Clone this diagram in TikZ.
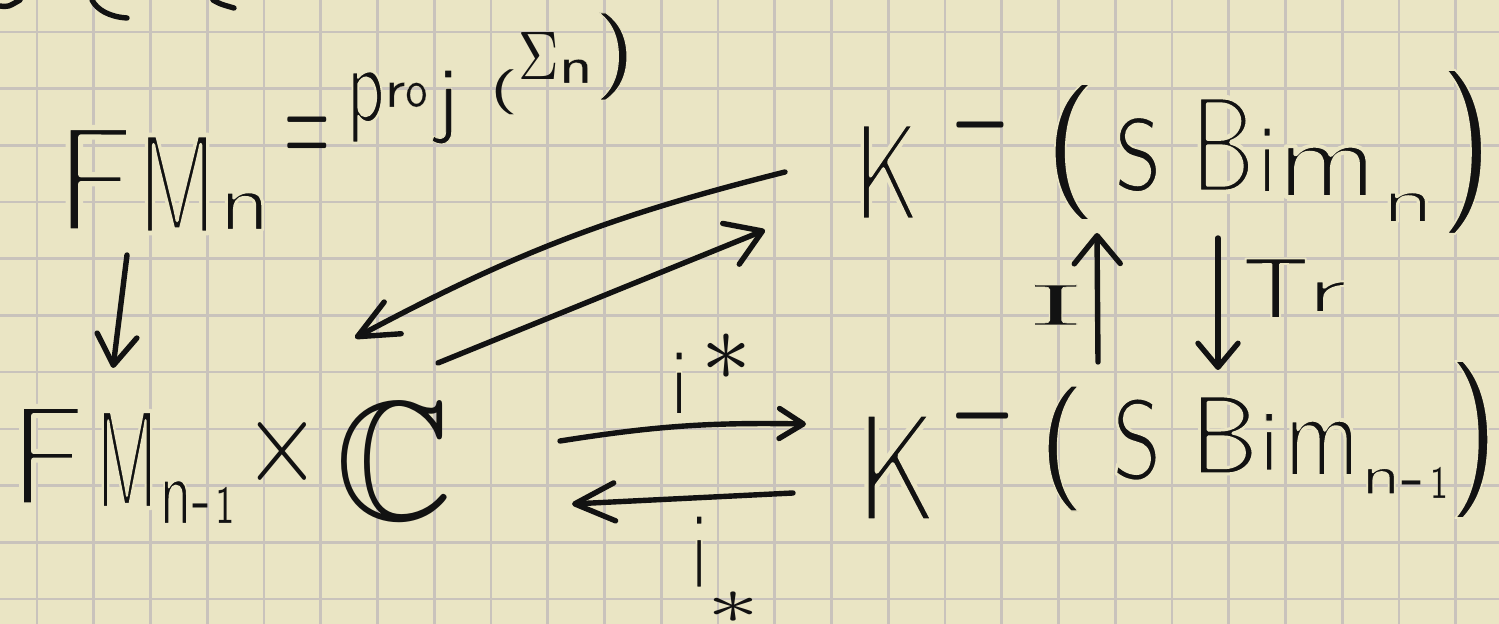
\documentclass[tikz,border=0pt]{standalone}
\usepackage{fontspec}
\usepackage{amssymb}
\usepackage{graphicx}
\usetikzlibrary{arrows.meta}
\definecolor{paper}{RGB}{234,229,196}
\definecolor{gridc}{RGB}{201,195,188}
\definecolor{ink}{RGB}{18,18,18}
% thin a scaled glyph: fill it, then stroke its outline in the paper colour
\newcommand{\thinw}[1]{\special{pdf:literal 2 Tr #1 w 0.918 0.898 0.769 RG}}
\newcommand{\thinoff}{\special{pdf:literal 0 Tr}}
\newcommand{\autothin}[2]{\pgfmathsetmacro\thw{max(0.01,min(0.35,0.8-3/max(#1,#2),0.8-1.8/min(#1,#2)))}\thinw{\thw}}
\newcommand{\hw}[5]{\makebox[#1pt][l]{\raisebox{#2pt}{\scalebox{#3}[#4]{\autothin{#3}{#4}#5\thinoff}}}}
\newcommand{\hwn}[4]{\raisebox{#1pt}{\scalebox{#2}[#3]{\autothin{#2}{#3}#4\thinoff}}}
\newcommand{\hk}[6]{\makebox[#2pt][l]{\raisebox{#3pt}{\scalebox{#4}[#5]{\thinw{#1}#6\thinoff}}}}
\newcommand{\hkn}[5]{\raisebox{#2pt}{\scalebox{#3}[#4]{\thinw{#1}#5\thinoff}}}
\newcommand{\hx}[5]{\makebox[#1pt][l]{\raisebox{#2pt}{\scalebox{#3}[#4]{#5}}}}
\newcommand{\hxn}[4]{\raisebox{#1pt}{\scalebox{#2}[#3]{#4}}}
\begin{document}
\begin{tikzpicture}[x=0.5pt,y=-0.5pt,line cap=round,line join=round,
  txt/.style={inner sep=0pt,outer sep=0pt,anchor=base west,text=ink,font=\sffamily},
  inkline/.style={draw=ink,line width=2.7pt},
  hand/.style 2 args={inkline,-{Straight Barb[length=#1,width=#2,round]}}]
\useasboundingbox (0,0) rectangle (1499,624);
\fill[paper] (0,0) rectangle (1499,624);
\foreach \k in {0,...,25} \draw[gridc,line width=1.3pt] ({37+56.75*\k},0) -- ({37+56.75*\k},624);
\foreach \k in {0,...,10} \draw[gridc,line width=1.3pt] (0,{32+56.7*\k}) -- (1499,{32+56.7*\k});
% cut-off strokes of the previous line
\draw[inkline] (0,6) .. controls (8,7) .. (20,0);
\draw[inkline] (92,0) .. controls (97,10) and (110,17) .. (127,18);
\draw[inkline] (213,0) .. controls (220,4) .. (234,8);
% texts
\node[txt] (fmn) at (55,231) {\hw{41.2}{0}{7.0}{7.49}{F}\hw{40.3}{-1}{4.55}{7.06}{M}\hk{0.28}{0}{0.5}{5.14}{4.17}{n}};
\node[txt] (prj) at (284.8,150) {\hx{30.8}{-8.1}{2.93}{6.74}{$=$}\hw{19.2}{14.3}{3.7}{5.56}{p}\hw{10.3}{21.5}{3.0}{2.7}{r}\hw{15.8}{21.76}{2.2}{2.59}{o}\hw{26.6}{11.8}{4}{4.29}{j}\hx{14.05}{23.1}{3.6}{2.25}{(}\hx{20.25}{35}{2.8}{3.44}{$\Sigma$}\hw{17.1}{33.5}{3.3}{2.59}{n}\hkn{0.1}{35.9}{5.5}{4.35}{)}};
\node[txt] (fmc) at (8.7,506) {\hw{43.4}{0.5}{6.78}{7.13}{F}\hw{31.75}{-1}{3.6}{6.99}{M}\hk{0.25}{16.6}{-9}{3.2}{4.84}{n}\hx{11.5}{-7.7}{2.78}{3.5}{-}\hw{14.4}{-8.5}{1.9}{2.67}{1}\hx{45.9}{12.3}{5}{6}{$\times$}\hxn{-6.65}{8.15}{8.45}{$\mathbb{C}$}};
\node[txt] (kn) at (852.9,220) {\hw{48.85}{0}{4.86}{6.92}{K}\hx{46.55}{28.75}{3.85}{7.5}{$-$}\hk{0.12}{35.3}{17}{7}{6.8}{(}\hw{37.75}{15}{4.27}{5.1}{S}\hw{34.5}{14}{4.93}{6.84}{B}\hw{8.45}{14}{3.5}{4.9}{i}\hw{52.45}{11.5}{6.46}{5.63}{m}\hk{0.3}{29}{-1}{5.28}{3.27}{n}\hkn{0.12}{13.5}{7}{8.2}{)}};
\node[txt] (kn1) at (855,521) {\hw{47.45}{0}{6.01}{7.71}{K}\hx{44.35}{33.75}{4.26}{7.5}{$-$}\hk{0.1}{36.7}{20.6}{6}{6.25}{(}\hw{38.65}{21.1}{4.49}{5.65}{S}\hw{35.7}{23.5}{5.22}{5.62}{B}\hw{11.2}{25.5}{3.5}{4.32}{i}\hw{38.9}{22.5}{4.88}{6.19}{m}\hk{0.22}{20.2}{13.5}{3.89}{2.82}{n}\hx{14.3}{11.3}{3.5}{3.5}{-}\hw{9}{11.5}{1.8}{2.29}{1}\hkn{0.12}{21.1}{6.5}{7.85}{)}};
\node[txt] (istar) at (670.75,414) {\hw{15.6}{0}{3.5}{4.75}{i}\hxn{17}{5}{5}{$\ast$}};
\node[txt] (ilow) at (690.75,588) {\hw{8.4}{0}{3.5}{5.55}{i}\hxn{-17.7}{5.2}{3.4}{$\ast$}};
\node[txt] (ilab) at (1030.4,325) {\hkn{0.08}{0}{7}{2.93}{\rmfamily I}};
\node[txt] (tr) at (1242,318) {\hw{32}{0}{4.95}{4.32}{T}\hwn{3}{6}{3.38}{r}};
% connectors
\draw[hand={15pt}{20pt}] ([shift={(72,24)}]fmn.base west) -- ([shift={(104.3,-138)}]fmc.base west);
\draw[hand={20pt}{18pt}] ([shift={(-67.9,-48)}]kn.base west) to[bend right=7] ([shift={(346.3,-168)}]fmc.base west);
\draw[hand={17pt}{22pt}] ([shift={(429.3,-143)}]fmc.base west) -- ([shift={(-87.9,10)}]kn.base west);
\draw[hand={12pt}{15pt}] ([shift={(551.3,-65)}]fmc.base west) to[bend left=5] ([shift={(-49,-97)}]kn1.base west);
\draw[hand={20pt}{19pt}] ([shift={(-62,-28)}]kn1.base west) -- ([shift={(563.3,-2)}]fmc.base west);
\draw[hand={14pt}{23pt}] ([shift={(243,-159)}]kn1.base west) -- ([shift={(244.1,13)}]kn.base west);
\draw[hand={12pt}{20pt}] ([shift={(365.1,18)}]kn.base west) -- ([shift={(363,-151)}]kn1.base west);
\end{tikzpicture}
\end{document}
